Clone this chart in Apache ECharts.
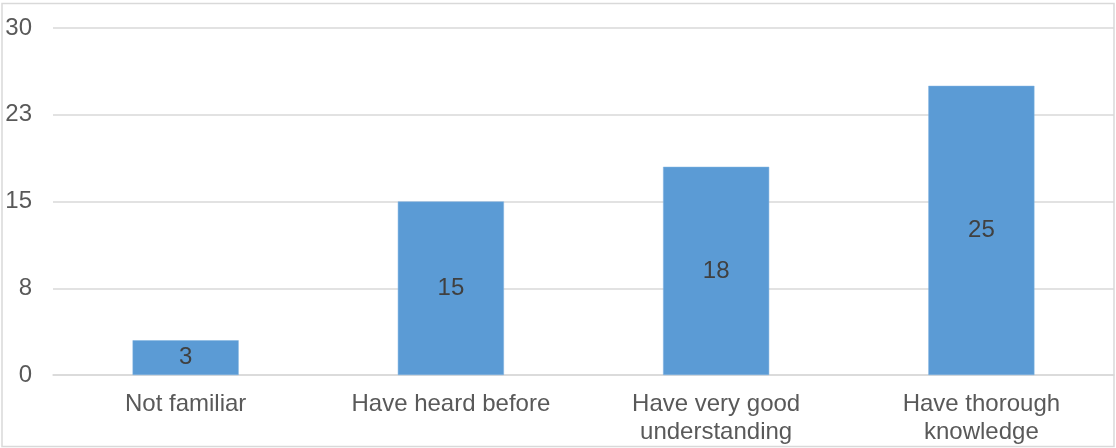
<!DOCTYPE html>
<html>
<head>
<meta charset="utf-8">
<script src="https://cdn.jsdelivr.net/npm/echarts@6/dist/echarts.min.js"></script>
<style>
html,body{margin:0;padding:0;background:#fff;}
#c{width:1116px;height:448px;}
</style>
</head>
<body>
<div id="c"></div>
<script>
var categories = ['Not familiar', 'Have heard before', 'Have very good\nunderstanding', 'Have thorough\nknowledge'];
var values = [3, 15, 18, 25];
var yMin = 0, yMax = 30, yInterval = 7.5;

var FONT = 'Liberation Sans, Arial, sans-serif';
var chart = echarts.init(document.getElementById('c'));
chart.setOption({
  animation: false,
  backgroundColor: '#fff',
  graphic: [{
    type: 'rect',
    shape: { x: 2, y: 3.5, width: 1112, height: 443 },
    style: { fill: 'none', stroke: '#d9d9d9', lineWidth: 1.5 },
    silent: true, z: -1
  }],
  grid: { left: 53, right: 2, top: 28, bottom: 73, containLabel: false },
  xAxis: {
    type: 'category',
    data: categories,
    axisLine: { show: true, lineStyle: { color: '#d9d9d9', width: 1.5 } },
    axisTick: { show: false },
    axisLabel: {
      color: '#595959', fontSize: 24, fontFamily: FONT,
      lineHeight: 28, margin: 15, interval: 0
    }
  },
  yAxis: {
    type: 'value',
    min: yMin, max: yMax, interval: yInterval,
    axisLine: { show: false },
    axisTick: { show: false },
    splitLine: { lineStyle: { color: '#d9d9d9', width: 1.5 } },
    axisLabel: {
      color: '#595959', fontSize: 24, fontFamily: FONT,
      margin: 21,
      formatter: function (v) { return String(Math.round(v)); }
    }
  },
  series: [{
    type: 'bar',
    data: values,
    barCategoryGap: '60%',
    itemStyle: { color: '#5b9bd5', borderColor: '#7fb2e0', borderWidth: 0.5 },
    label: {
      show: true, position: 'inside', color: '#404040', fontSize: 24,
      fontFamily: FONT
    }
  }]
});
</script>
</body>
</html>
